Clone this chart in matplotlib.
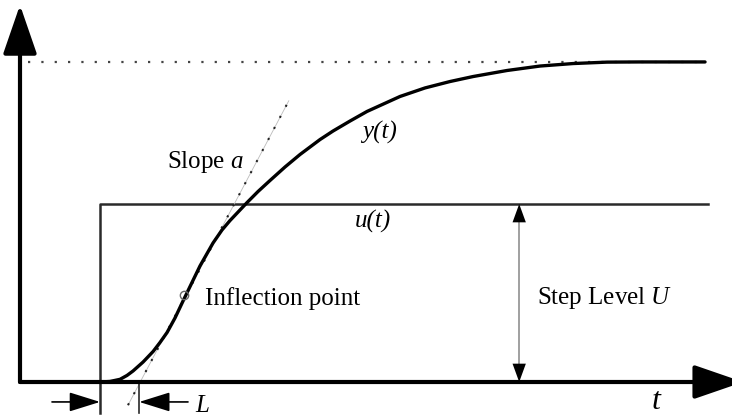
import matplotlib.pyplot as plt

# step input u(t)
step_time = 1.0
step_level = 1.0
t_end = 8.6

# step response y(t)
resp_t = [1.0, 1.125, 1.25, 1.338, 1.413, 1.538, 1.663, 1.75, 1.838, 1.938, 2.038,
          2.138, 2.25, 2.413, 2.525, 2.625, 2.838, 2.975, 3.125, 3.313, 3.5, 3.75,
          3.913, 4.125, 4.338, 4.75, 5.063, 5.375, 5.663, 6.088, 6.5, 6.913, 7.338,
          7.75, 8.563]
resp_y = [0.0, 0.003, 0.015, 0.037, 0.062, 0.112, 0.171, 0.222, 0.278, 0.360, 0.455,
          0.548, 0.652, 0.781, 0.854, 0.907, 1.008, 1.070, 1.132, 1.208, 1.278, 1.362,
          1.410, 1.466, 1.520, 1.604, 1.652, 1.688, 1.716, 1.750, 1.775, 1.789, 1.797,
          1.798, 1.798]
y_final = 1.798

# tangent at the inflection point
tangent_t = [1.35, 3.36]
tangent_y = [-0.13, 1.58]
inflection = (2.05, 0.489)
dead_time_end = 1.49   # where tangent crosses the t axis


def arrow(ax, start, end, lw, color, hl, hw, scale):
    ax.annotate("", xy=end, xytext=start, annotation_clip=False,
                arrowprops=dict(arrowstyle=f"-|>,head_length={hl},head_width={hw}",
                                mutation_scale=scale, lw=lw, color=color,
                                shrinkA=0, shrinkB=0))


def main():
    plt.rcParams["font.family"] = "Liberation Serif"
    plt.rcParams["mathtext.fontset"] = "custom"
    plt.rcParams["mathtext.it"] = "Liberation Serif:italic"
    plt.rcParams["mathtext.rm"] = "Liberation Serif"

    fig = plt.figure(figsize=(7.32, 4.16), dpi=100)
    ax = fig.add_axes([0, 0, 1, 1])
    ax.set_xlim(-0.25, 8.9)
    ax.set_ylim(-0.191, 2.146)
    ax.axis("off")

    # final value
    ax.plot([0.1, 8.5], [y_final, y_final], color="#444444", lw=1.6, ls=(0, (1, 5)))

    # step input
    ax.plot([step_time, step_time, t_end], [-0.174, step_level, step_level],
            color="#2a2a2a", lw=1.8)

    # tangent
    ax.plot(tangent_t, tangent_y, color="#bbbbbb", lw=0.6)
    ax.plot(tangent_t, tangent_y, color="#222222", lw=1.5, ls=(0, (1, 5)))

    # response
    ax.plot(resp_t, resp_y, color="black", lw=2.4, solid_capstyle="round")
    ax.plot(*inflection, marker="o", ms=6, mfc="none", mec="#666666", mew=1)

    # axes with arrows
    arrow(ax, (0, 0), (0, 2.118), 3, "black", 1.45, 0.5, 21)
    arrow(ax, (0, 0), (9.04, 0), 3, "black", 1.45, 0.5, 21)

    # step level double arrow
    ax.plot([6.24, 6.24], [0.05, 0.95], color="#999999", lw=1.3)
    for tip, tail in [(step_level, 0.9), (0, 0.1)]:
        ax.annotate("", xy=(6.24, tip), xytext=(6.24, tail),
                    arrowprops=dict(arrowstyle="-|>,head_length=1.1,head_width=0.4",
                                    mutation_scale=12, lw=0, color="black",
                                    shrinkA=0, shrinkB=0))

    # dead time L
    ax.plot([dead_time_end, dead_time_end], [0, -0.174], color="#2a2a2a", lw=1.2)
    arrow(ax, (0.4, -0.112), (step_time, -0.112), 1.2, "black", 1.6, 0.5, 12)
    arrow(ax, (2.1, -0.112), (dead_time_end, -0.112), 1.2, "black", 1.6, 0.5, 12)

    fs = 18
    ax.text(1.838, 1.202, "Slope $a$", fontsize=fs, va="baseline")
    ax.text(4.275, 1.365, "y(t)", fontsize=fs, style="italic", va="baseline")
    ax.text(4.188, 0.865, "u(t)", fontsize=fs, style="italic", va="baseline")
    ax.text(2.313, 0.433, "Inflection point", fontsize=fs, va="baseline")
    ax.text(6.463, 0.438, "Step Level $U$", fontsize=fs, va="baseline")
    ax.text(2.188, -0.168, "L", fontsize=fs, style="italic", va="baseline")
    ax.text(7.95, -0.15, "t", fontsize=23, style="italic", va="baseline", ha="center")

    fig.savefig("out.png", dpi=100)


if __name__ == "__main__":
    main()
